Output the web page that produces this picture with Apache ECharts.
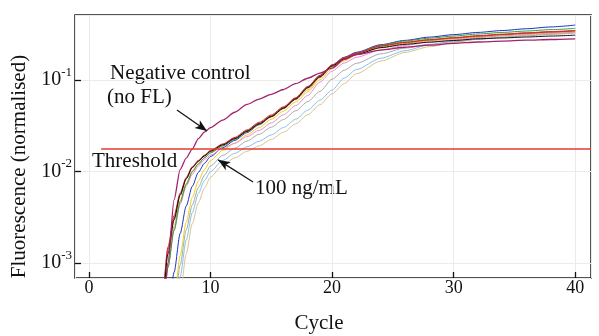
<!DOCTYPE html>
<html><head><meta charset="utf-8">
<script src="https://cdn.jsdelivr.net/npm/echarts@6/dist/echarts.min.js"></script>
<style>html,body{margin:0;padding:0;background:#fff}#c{width:599px;height:336px}</style>
</head><body><div id="c"></div>
<script>
// ---- data ----
const cycles = [5.5,6,6.5,7,7.5,8,8.5,9,9.5,10,11,12,13,14,15,16,17,18,19,20,21,22,24,26,28,30,32,34,36,38,40];
const negativeControl = [0.000025,0.0002,0.001,0.0049,0.0105,0.014,0.0176,0.0229,0.0269,0.0302,0.0365,0.0444,0.0541,0.0619,0.0697,0.0787,0.0912,0.1045,0.119,0.135,0.168,0.19,0.212,0.228,0.24,0.251,0.26,0.266,0.272,0.277,0.282];
const black = [0.000063,0.000316,0.00126,0.00295,0.0055,0.0083,0.011,0.0129,0.0148,0.0166,0.0195,0.0229,0.0275,0.0331,0.0398,0.049,0.0617,0.082,0.108,0.142,0.169,0.19,0.226,0.245,0.259,0.27,0.282,0.288,0.295,0.302,0.309];
const red = [0.00008,0.0004,0.0015,0.0033,0.0058,0.0086,0.0113,0.0132,0.0151,0.017,0.02,0.0236,0.0285,0.0345,0.0415,0.051,0.064,0.085,0.112,0.146,0.175,0.197,0.236,0.259,0.276,0.29,0.305,0.317,0.328,0.338,0.348];
const green = [0.00004,0.0002,0.0009,0.0023,0.0046,0.0072,0.0099,0.0121,0.0141,0.016,0.019,0.0225,0.0272,0.033,0.04,0.0495,0.0625,0.083,0.11,0.145,0.174,0.198,0.24,0.267,0.286,0.302,0.318,0.331,0.343,0.355,0.366];
const blue = [0.00001,0.00005,0.00025,0.00079,0.0021,0.0042,0.0069,0.0098,0.0123,0.0146,0.0182,0.0219,0.0266,0.0324,0.0398,0.0495,0.0631,0.084,0.112,0.146,0.177,0.201,0.243,0.271,0.294,0.313,0.331,0.347,0.363,0.38,0.398];
const yellow = [0.000003,0.000016,0.0001,0.0004,0.0012,0.0028,0.0052,0.0079,0.0105,0.0132,0.017,0.0204,0.0251,0.0302,0.0372,0.0457,0.0575,0.0741,0.101,0.133,0.162,0.188,0.224,0.25,0.271,0.285,0.299,0.309,0.32,0.327,0.335];
const lightBlue = [0.000001,0.0000063,0.00004,0.0002,0.00071,0.00178,0.00355,0.00575,0.00794,0.01,0.0132,0.0158,0.0186,0.0214,0.0251,0.0302,0.0372,0.0468,0.0603,0.0776,0.105,0.13,0.173,0.209,0.242,0.266,0.288,0.305,0.32,0.331,0.343];
const tan = [0.0000006,0.000003,0.000016,0.0001,0.00045,0.00126,0.00269,0.00457,0.0066,0.0087,0.0117,0.0141,0.0166,0.0191,0.0224,0.0269,0.0331,0.0417,0.0537,0.0708,0.0912,0.117,0.161,0.2,0.231,0.257,0.279,0.295,0.309,0.32,0.331];
const pink = [0.000032,0.0002,0.00089,0.00224,0.00437,0.00692,0.00933,0.0115,0.0135,0.0151,0.0178,0.0204,0.024,0.0282,0.0339,0.0417,0.0525,0.0676,0.095,0.125,0.153,0.177,0.213,0.239,0.259,0.275,0.292,0.305,0.316,0.324,0.333];
const brown = [0.00007,0.00036,0.0014,0.0031,0.0056,0.0084,0.0111,0.013,0.0149,0.0168,0.0197,0.0232,0.0279,0.0337,0.0406,0.05,0.0628,0.083,0.11,0.144,0.172,0.195,0.234,0.257,0.274,0.288,0.302,0.314,0.325,0.335,0.345];
const orange = [0.00005,0.00025,0.001,0.0025,0.0048,0.0074,0.0101,0.0122,0.0142,0.0161,0.0191,0.0226,0.0271,0.0327,0.0394,0.0485,0.061,0.078,0.106,0.139,0.167,0.19,0.226,0.251,0.268,0.282,0.296,0.309,0.32,0.33,0.34];
const gray = [0.000002,0.00001,0.00007,0.0003,0.00095,0.0023,0.0043,0.0067,0.0091,0.0115,0.015,0.018,0.0215,0.0255,0.0305,0.037,0.046,0.058,0.075,0.102,0.128,0.152,0.193,0.223,0.245,0.262,0.278,0.292,0.304,0.315,0.326];

const thresholdCycles = [1, 41.3];
const thresholdValue = 0.0176;
const xTickLabels = [0, 10, 20, 30, 40];
const yTickExponents = [-3, -2, -1];
// annotation arrows: [start cycle, start value] -> [tip cycle, tip value]
const negArrow = [[7.24, 0.047], [9.71, 0.0277]];
const ngArrow = [[13.5, 0.0077], [10.62, 0.0134]];

// ---- styles ----
const FONT = '"Liberation Serif", "Times New Roman", serif';
const curves = [
  ['tan', tan, '#dcc08e'],
  ['lightBlue', lightBlue, '#86c0e6'],
  ['gray', gray, '#a8a8a8'],
  ['yellow', yellow, '#e6d21c'],
  ['blue', blue, '#1c2fc4'],
  ['pink', pink, '#ec8ad8'],
  ['orange', orange, '#eaa040'],
  ['green', green, '#2e9e3a'],
  ['brown', brown, '#8c3b3b'],
  ['red', red, '#e0262a'],
  ['black', black, '#111111'],
  ['negativeControl', negativeControl, '#a3226e']
];

const series = curves.map(([name, vals, color]) => ({
  name, type: 'line', data: cycles.map((c, i) => [c, vals[i]]),
  showSymbol: false, symbol: 'none', smooth: 0.25, smoothMonotone: 'x',
  lineStyle: { color, width: name === 'negativeControl' ? 1.3 : 1 },
  silent: true
}));
series.push({
  name: 'threshold', type: 'line', data: thresholdCycles.map(c => [c, thresholdValue]),
  showSymbol: false, symbol: 'none', lineStyle: { color: '#e53a32', width: 1.5 }, silent: true,
  markLine: {
    silent: true, symbol: ['none', 'arrow'], symbolSize: [7, 12],
    label: { show: false },
    lineStyle: { color: '#111', width: 1.2, type: 'solid' },
    data: [
      [{ coord: negArrow[0] }, { coord: negArrow[1] }],
      [{ coord: ngArrow[0] }, { coord: ngArrow[1] }]
    ]
  }
});

const chart = echarts.init(document.getElementById('c'), null, { renderer: 'canvas' });
chart.setOption({
  animation: false,
  backgroundColor: '#fff',
  grid: { left: 75, right: 8, top: 15, bottom: 58, containLabel: false, outerBoundsMode: 'none',
          show: true, borderColor: '#1a1a1a', borderWidth: 1.5, backgroundColor: 'transparent' },
  xAxis: {
    type: 'value', min: -1.15, max: 41.3,
    axisLine: { show: false, onZero: false },
    axisTick: { inside: true, length: 6, lineStyle: { color: '#111', width: 1.3 } },
    splitLine: { show: true, lineStyle: { color: '#ebebeb', width: 1 } },
    axisLabel: {
      showMinLabel: false, showMaxLabel: false, margin: 1,
      fontFamily: FONT, fontSize: 18, color: '#111',
      formatter: v => xTickLabels.includes(v) ? String(v) : ''
    },
    name: 'Cycle', nameLocation: 'middle', nameGap: 35,
    nameTextStyle: { fontFamily: FONT, fontSize: 21, color: '#111', padding: [0, 28, 0, 0] }
  },
  yAxis: {
    type: 'log', logBase: 10, min: 0.000686, max: 0.513,
    axisLine: { show: false, onZero: false },
    axisTick: { inside: true, length: 6, lineStyle: { color: '#111', width: 1.3 } },
    splitLine: { show: true, lineStyle: { color: '#ebebeb', width: 1 } },
    axisLabel: {
      showMinLabel: false, showMaxLabel: false, margin: 3,
      formatter: v => {
        const e = Math.round(Math.log10(v));
        if (!yTickExponents.includes(e) || Math.abs(Math.log10(v) - e) > 0.01) return '';
        return '{b|10}{s|' + e + '}';
      },
      rich: {
        b: { fontFamily: FONT, fontSize: 20, lineHeight: 28, color: '#111', verticalAlign: 'middle' },
        s: { fontFamily: FONT, fontSize: 13, lineHeight: 13, color: '#111', verticalAlign: 'top' }
      }
    },
    name: 'Fluorescence (normalised)', nameLocation: 'middle', nameGap: 40,
    nameTextStyle: { fontFamily: FONT, fontSize: 21, color: '#111', padding: [0, 40, 0, 0] }
  },
  graphic: [
    { type: 'text', x: 110, y: 73.6, silent: true, style: { text: 'Negative control', fontFamily: FONT, fontSize: 21, fill: '#111', verticalAlign: 'middle', textVerticalAlign: 'middle' } },
    { type: 'text', x: 107, y: 97.2, silent: true, style: { text: '(no FL)', fontFamily: FONT, fontSize: 21, fill: '#111', verticalAlign: 'middle', textVerticalAlign: 'middle' } },
    { type: 'text', x: 92, y: 161.2, silent: true, style: { text: 'Threshold', fontFamily: FONT, fontSize: 21, fill: '#111', verticalAlign: 'middle', textVerticalAlign: 'middle' } },
    { type: 'text', x: 255, y: 188, silent: true, style: { text: '100 ng/mL', fontFamily: FONT, fontSize: 21, fill: '#111', verticalAlign: 'middle', textVerticalAlign: 'middle' } }
  ],
  series
});
</script></body></html>
